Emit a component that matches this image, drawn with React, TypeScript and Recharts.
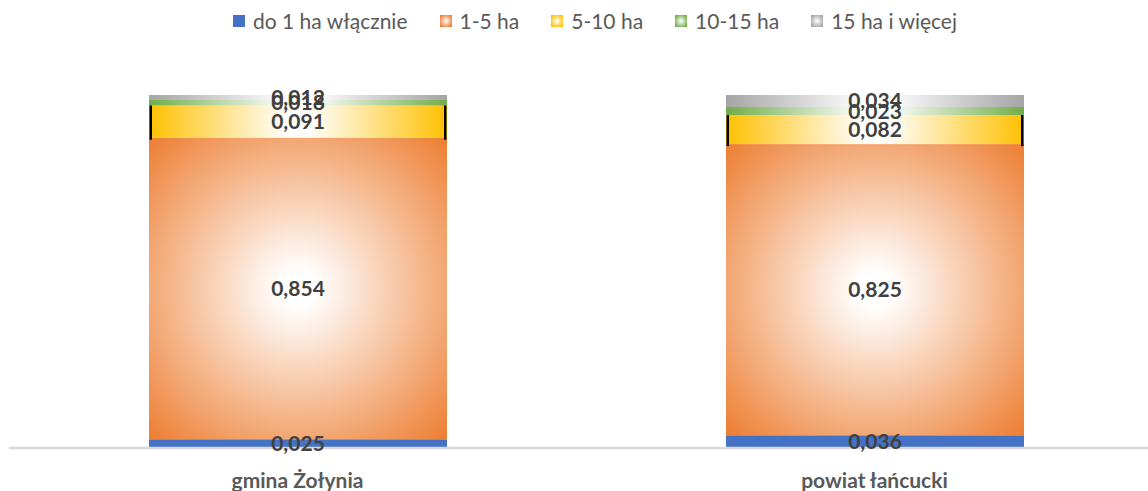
import React from 'react';
import { BarChart, Bar, XAxis, YAxis, Legend, LabelList } from 'recharts';

const categories = ['gmina Żołynia', 'powiat łańcucki'];
const upTo1 = [0.025, 0.036];
const from1to5 = [0.854, 0.825];
const from5to10 = [0.091, 0.082];
const from10to15 = [0.018, 0.023];
const over15 = [0.012, 0.034];

const seriesMeta = [
    { key: 'a', name: 'do 1 ha włącznie', values: upTo1, color: '#4472C4', solid: true },
    { key: 'b', name: '1-5 ha', values: from1to5, color: '#ED7D31', solid: false },
    { key: 'c', name: '5-10 ha', values: from5to10, color: '#FFC000', solid: false },
    { key: 'd', name: '10-15 ha', values: from10to15, color: '#70AD47', solid: false },
    { key: 'e', name: '15 ha i więcej', values: over15, color: '#A5A5A5', solid: false },
];

const data = categories.map((name, i) => {
    const row: Record<string, string | number> = { name };
    seriesMeta.forEach((s) => {
        row[s.key] = s.values[i];
    });
    return row;
});

const FONT = 'Lato, "Open Sans", sans-serif';

const fmt = (v: any) => Number(v).toFixed(3).replace('.', ',');

// white centre fading to the series colour at the corners (circle in user space)
const makeGlowBar = (seriesKey: string, color: string, edged: boolean) => (props: any) => {
    const { x, y, width, height, index } = props;
    if (!width || !height) return null;
    const id = `glow-${seriesKey}-${index}`;
    const r = Math.sqrt(width * width + height * height) / 2;
    return (
        <g>
            <defs>
                <radialGradient
                    id={id}
                    gradientUnits="userSpaceOnUse"
                    cx={x + width / 2}
                    cy={y + height / 2}
                    r={r}
                >
                    <stop offset="0" stopColor="#ffffff" />
                    <stop offset="0.08" stopColor="#ffffff" />
                    <stop offset="1" stopColor={color} />
                </radialGradient>
            </defs>
            <rect x={x} y={y} width={width} height={height} fill={`url(#${id})`} />
            {edged && (
                <>
                    <rect x={x + 0.5} y={y - 2} width={2.5} height={height + 4} fill="#000" />
                    <rect x={x + width - 3} y={y - 2} width={2.5} height={height + 4} fill="#000" />
                </>
            )}
        </g>
    );
};

const renderLegend = () => (
    <div
        style={{
            display: 'flex',
            justifyContent: 'center',
            paddingLeft: 18,
            fontFamily: FONT,
            fontSize: 21,
            color: '#595959',
        }}
    >
        {seriesMeta.map((s, i) => (
            <div
                key={s.key}
                style={{
                    display: 'flex',
                    alignItems: 'center',
                    marginRight: i === seriesMeta.length - 1 ? 0 : 32,
                }}
            >
                <svg width={12} height={12} style={{ marginRight: 8 }}>
                    <defs>
                        <radialGradient id={`lg-${s.key}`} cx="0.5" cy="0.5" r="0.6">
                            <stop offset="0" stopColor="#fff" />
                            <stop offset="1" stopColor={s.color} />
                        </radialGradient>
                    </defs>
                    <rect width={12} height={12} fill={s.solid ? s.color : `url(#lg-${s.key})`} />
                </svg>
                <span>{s.name}</span>
            </div>
        ))}
    </div>
);

const CategoryTick = ({ x, y, payload }: any) => (
    <text
        x={x}
        y={y + 32}
        textAnchor="middle"
        fill="#595959"
        fontFamily={FONT}
        fontSize={21}
        fontWeight="bold"
    >
        {payload.value}
    </text>
);

const App = () => {
    return (
        <div
            style={{
                position: 'absolute',
                left: 0,
                top: 0,
                width: 1148,
                height: 491,
                overflow: 'hidden',
                background: '#fff',
            }}
        >
            <BarChart
                width={1163}
                height={491}
                data={data}
                margin={{ top: 65, right: 0, left: 9, bottom: 0 }}
            >
                <Legend
                    verticalAlign="top"
                    content={renderLegend}
                    wrapperStyle={{ top: 8, height: 30 }}
                />
                <XAxis
                    dataKey="name"
                    axisLine={{ stroke: '#d9d9d9', strokeWidth: 2.5 }}
                    tickLine={false}
                    tick={<CategoryTick />}
                    height={43}
                    interval={0}
                />
                <YAxis hide domain={[0, 1]} />
                {seriesMeta.map((s) => (
                    <Bar
                        key={s.key}
                        dataKey={s.key}
                        name={s.name}
                        stackId="farms"
                        fill={s.color}
                        barSize={298}
                        shape={s.solid ? undefined : makeGlowBar(s.key, s.color, s.key === 'c')}
                        isAnimationActive={false}
                    >
                        <LabelList
                            dataKey={s.key}
                            position="center"
                            formatter={fmt}
                            fill="#404040"
                            fontFamily={FONT}
                            fontSize={21}
                            fontWeight="bold"
                        />
                    </Bar>
                ))}
            </BarChart>
        </div>
    );
};

export default App;
